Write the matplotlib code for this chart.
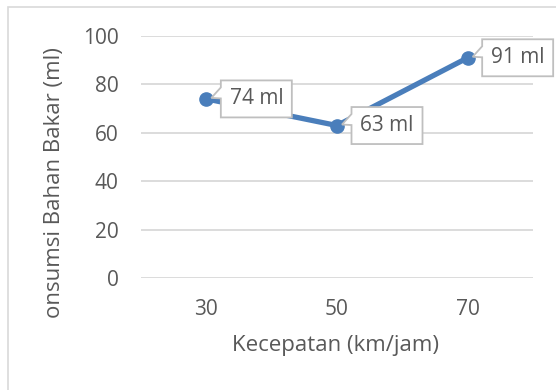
import matplotlib.pyplot as plt
from matplotlib.patches import Rectangle, Polygon
from matplotlib.transforms import IdentityTransform

# data
speeds = ['30', '50', '70']
fuel_ml = [74, 63, 91]
point_labels = ['74 ml', '63 ml', '91 ml']
y_ticks = [0, 20, 40, 60, 80, 100]

plt.rcParams['font.family'] = ['Open Sans', 'DejaVu Sans']
grey_text = '#595959'
line_blue = '#4a7ebb'
box_edge = '#bfbfbf'

fig = plt.figure(figsize=(5.56, 3.9), dpi=100)
W, H = 556.0, 390.0

# outer chart frame, cut off on the right and bottom
fig.patches.append(Rectangle((8 / W, -0.1), 1.2, 1 - 7 / H + 0.1,
                             transform=fig.transFigure, fill=False,
                             ec='#d9d9d9', lw=1.2))

ax = fig.add_axes([141 / W, 1 - 278 / H, (533 - 141) / W, (278 - 36) / H])
x = list(range(len(speeds)))
ax.plot(x, fuel_ml, color=line_blue, lw=3.8, marker='o', ms=9.5,
        solid_capstyle='round', zorder=3)

ax.set_xlim(-0.5, len(speeds) - 0.5)
ax.set_ylim(0, 100)
ax.set_yticks(y_ticks)
ax.set_xticks(x)
ax.set_xticklabels(speeds)
ax.grid(axis='y', color='#d9d9d9', lw=1.3)
ax.set_axisbelow(True)
for s in ax.spines.values():
    s.set_visible(False)
ax.tick_params(length=0, labelsize=15, colors=grey_text)
ax.tick_params(axis='y', pad=16)
ax.tick_params(axis='x', pad=15)

fig.text(335 / W, 1 - 346 / H, 'Kecepatan (km/jam)', fontsize=16,
         color=grey_text, ha='center', va='center')
fig.text(55 / W, 1 - 183 / H, 'onsumsi Bahan Bakar (ml)', rotation=90,
         fontsize=16, color=grey_text, ha='center', va='center')

# data label callouts, built in pixel space from each point's position
idt = IdentityTransform()
bw, bh = 71, 37
for xi, yi, lab in zip(x, fuel_ml, point_labels):
    px, py = ax.transData.transform((xi, yi))
    cx, cy = px + 50, py
    L, R = cx - bw / 2, cx + bw / 2
    T, B = cy + bh / 2, cy - bh / 2
    verts = [(L, T), (R, T), (R, B), (L, B), (L, T - 18),
             (px + 5, py + 1), (L, T - 7)]
    fig.add_artist(Polygon(verts, closed=True, transform=idt, fc='white',
                           ec=box_edge, lw=1.3, zorder=4))
    fig.text(cx, cy, lab, transform=idt, ha='center', va='center',
             fontsize=15, color=grey_text, zorder=5)

fig.savefig('out.png', dpi=100)
